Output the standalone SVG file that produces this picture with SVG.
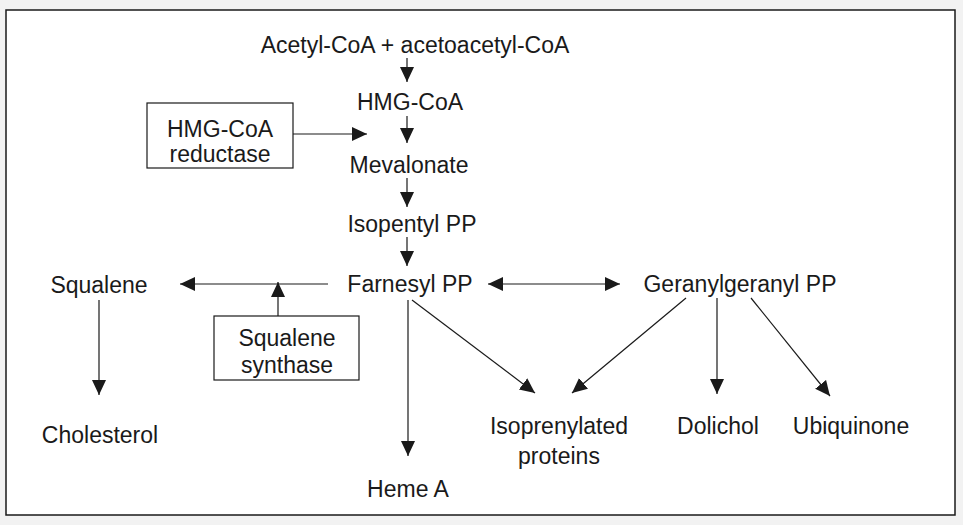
<svg xmlns="http://www.w3.org/2000/svg" width="963" height="525" viewBox="0 0 963 525">
<style>
text{font-family:"Liberation Sans",Arial,sans-serif;font-size:23px;fill:#1a1a1a;text-anchor:middle}
.box{fill:#fff;stroke:#1a1a1a;stroke-width:1.2}
.c line{stroke:#1a1a1a;stroke-width:1.2}
</style>
<defs>
<marker id="ah" markerUnits="userSpaceOnUse" markerWidth="16" markerHeight="16" viewBox="0 0 16 16" refX="15" refY="8" orient="auto-start-reverse">
<path d="M0,1 L15,8 L0,15 Z" fill="#1a1a1a"/>
</marker>
</defs>
<rect x="0" y="0" width="963" height="525" fill="#f2f2f2"/>
<rect x="6" y="10" width="949" height="505" fill="#fff" stroke="#1a1a1a" stroke-width="1.5"/>
<g class="c" id="connectors">
<line x1="407" y1="58" x2="407" y2="82" marker-end="url(#ah)"/>
<line x1="407" y1="116" x2="407" y2="143" marker-end="url(#ah)"/>
<line x1="407" y1="178" x2="407" y2="207" marker-end="url(#ah)"/>
<line x1="407" y1="237" x2="407" y2="266" marker-end="url(#ah)"/>
<line x1="293" y1="134" x2="367" y2="134" marker-end="url(#ah)"/>
<line x1="328" y1="284" x2="180" y2="284" marker-end="url(#ah)"/>
<line x1="278" y1="316" x2="278" y2="282" marker-end="url(#ah)"/>
<line x1="99" y1="300" x2="99" y2="395" marker-end="url(#ah)"/>
<line x1="488" y1="284" x2="620" y2="284" marker-start="url(#ah)" marker-end="url(#ah)"/>
<line x1="408" y1="300" x2="408" y2="456" marker-end="url(#ah)"/>
<line x1="412" y1="300" x2="535" y2="393" marker-end="url(#ah)"/>
<line x1="686" y1="298" x2="572" y2="393" marker-end="url(#ah)"/>
<line x1="717" y1="298" x2="717" y2="394" marker-end="url(#ah)"/>
<line x1="751" y1="298" x2="830" y2="396" marker-end="url(#ah)"/>
</g>
<g id="acetyl"><text x="415" y="53">Acetyl-CoA + acetoacetyl-CoA</text></g>
<g id="hmgcoa"><text x="410" y="110">HMG-CoA</text></g>
<g id="mevalonate"><text x="409" y="173">Mevalonate</text></g>
<g id="isopentyl"><text x="412" y="232">Isopentyl PP</text></g>
<g id="farnesyl"><text x="410" y="292">Farnesyl PP</text></g>
<g id="reductase"><rect class="box" x="147" y="103" width="146" height="65"/><text x="220" y="137">HMG-CoA</text><text x="220" y="162">reductase</text></g>
<g id="squalene"><text x="99" y="293">Squalene</text></g>
<g id="synthase"><rect class="box" x="214" y="316" width="145" height="64"/><text x="287" y="346">Squalene</text><text x="287" y="373">synthase</text></g>
<g id="cholesterol"><text x="100" y="443">Cholesterol</text></g>
<g id="geranyl"><text x="740" y="292">Geranylgeranyl PP</text></g>
<g id="heme"><text x="408" y="497">Heme A</text></g>
<g id="isoprenylated"><text x="559" y="434">Isoprenylated</text><text x="559" y="464">proteins</text></g>
<g id="dolichol"><text x="718" y="434">Dolichol</text></g>
<g id="ubiquinone"><text x="851" y="434">Ubiquinone</text></g>
</svg>
